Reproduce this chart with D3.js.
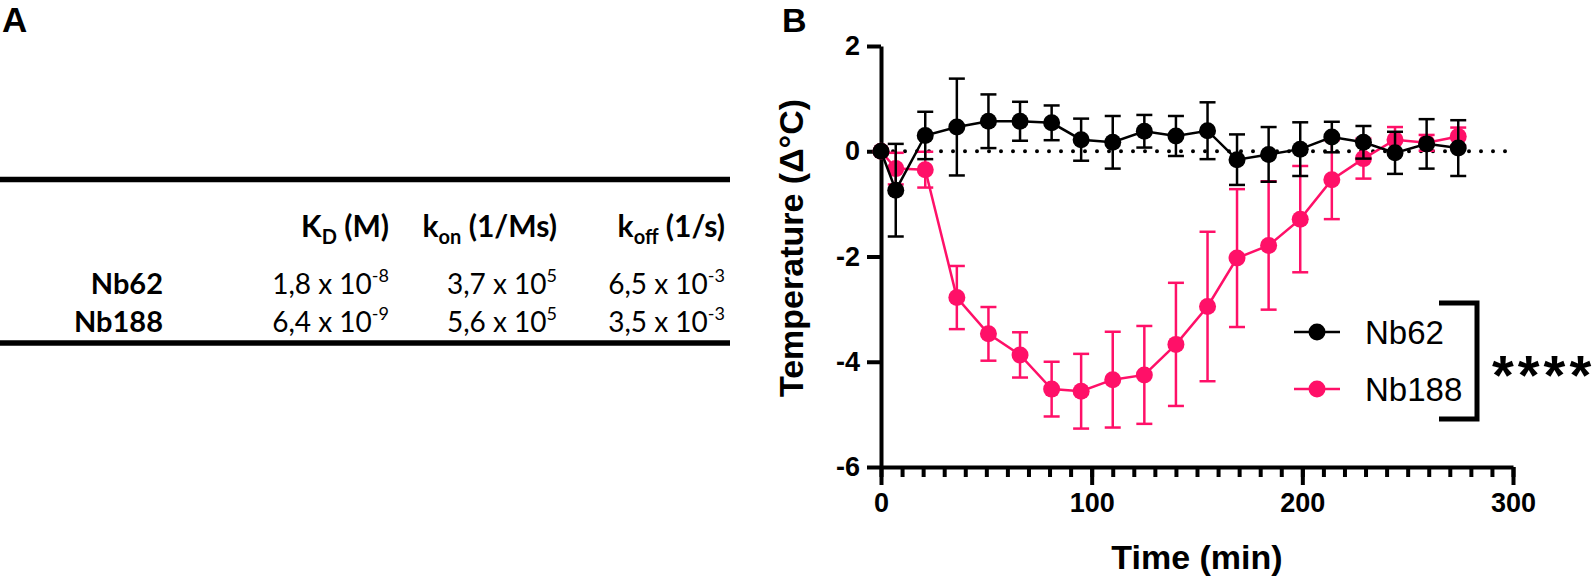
<!DOCTYPE html>
<html>
<head>
<meta charset="utf-8">
<script src="https://cdn.jsdelivr.net/npm/d3@7"></script>
<style>
  body { margin: 0; background: #fff; }
</style>
</head>
<body>
<div id="chart"></div>
<script>
// ---- panel A: kinetics table ----
const headMain = ["K", "k", "k"];
const headSub = ["D", "on", "off"];
const headUnit = [" (M)", " (1/Ms)", " (1/s)"];
const rowNames = ["Nb62", "Nb188"];
const mantissas = [["1,8", "3,7", "6,5"], ["6,4", "5,6", "3,5"]];
const exponents = [["-8", "5", "-3"], ["-9", "5", "-3"]];

// ---- panel B: temperature over time ----
const times = [0, 7, 21, 36, 51, 66, 81, 95, 110, 125, 140, 155, 169, 184, 199, 214, 229, 244, 259, 274];
const nb62Mean = [0, -0.74, 0.30, 0.46, 0.57, 0.57, 0.54, 0.22, 0.17, 0.38, 0.29, 0.39, -0.16, -0.06, 0.04, 0.27, 0.17, -0.03, 0.14, 0.06];
const nb62Sd = [0, 0.88, 0.45, 0.92, 0.51, 0.37, 0.33, 0.40, 0.50, 0.31, 0.38, 0.54, 0.48, 0.52, 0.51, 0.29, 0.31, 0.40, 0.47, 0.53];
const nb188Mean = [0, -0.33, -0.35, -2.78, -3.47, -3.87, -4.52, -4.56, -4.34, -4.25, -3.67, -2.95, -2.03, -1.79, -1.29, -0.54, -0.14, 0.22, 0.16, 0.28];
const nb188Sd = [0, 0.30, 0.34, 0.60, 0.51, 0.43, 0.52, 0.71, 0.91, 0.93, 1.17, 1.42, 1.31, 1.22, 1.01, 0.75, 0.38, 0.24, 0.15, 0.17];
const seriesNames = ["Nb62", "Nb188"];
const xTicks = [0, 100, 200, 300];
const yTicks = [-6, -4, -2, 0, 2];

const black = "#000";
const pink = "#FF1068";
const sans = "'Liberation Sans', Arial, sans-serif";
const tableFont = "Lato, 'Open Sans', sans-serif";

const width = 1594, height = 580;

const svg = d3.select("#chart")
  .append("svg")
  .attr("width", width)
  .attr("height", height);

// panel letters
svg.append("text")
  .attr("x", 2)
  .attr("y", 32)
  .text("A")
  .style("font-family", sans)
  .style("font-weight", "bold")
  .style("font-size", "35px");

svg.append("text")
  .attr("x", 782)
  .attr("y", 32)
  .text("B")
  .style("font-family", sans)
  .style("font-weight", "bold")
  .style("font-size", "34px");

// ---- table ----
[179.5, 343].forEach(yy => {
  svg.append("line")
    .attr("x1", 0)
    .attr("x2", 730)
    .attr("y1", yy)
    .attr("y2", yy)
    .style("stroke", black)
    .style("stroke-width", 5.5);
});

const colRight = [389, 557, 725];
const headY = 237;
const rowY = [294, 332];

headMain.forEach((m, i) => {
  const t = svg.append("text")
    .attr("x", colRight[i])
    .attr("y", headY)
    .attr("text-anchor", "end")
    .style("font-family", tableFont)
    .style("font-weight", "bold")
    .style("font-size", "30px");
  t.append("tspan").text(m);
  t.append("tspan").text(headSub[i]).attr("dy", 7).style("font-size", "20px");
  t.append("tspan").text(headUnit[i]).attr("dy", -7);
});

rowNames.forEach((name, r) => {
  svg.append("text")
    .attr("x", 163)
    .attr("y", rowY[r])
    .attr("text-anchor", "end")
    .text(name)
    .style("font-family", tableFont)
    .style("font-weight", "bold")
    .style("font-size", "29px");

  mantissas[r].forEach((m, i) => {
    const t = svg.append("text")
      .attr("x", colRight[i])
      .attr("y", rowY[r])
      .attr("text-anchor", "end")
      .style("font-family", tableFont)
      .style("font-size", "28px");
    t.append("tspan").text(m + " x 10");
    t.append("tspan").text(exponents[r][i]).attr("dy", -12).style("font-size", "18px");
  });
});

// ---- plot ----
const x = d3.scaleLinear().domain([0, 300]).range([881, 1513]);
const y = d3.scaleLinear().domain([-6, 2]).range([467, 46]);

// minor x ticks every 10 min
const xAxisMinor = svg.append("g")
  .attr("transform", `translate(0,${y(-6)})`)
  .call(d3.axisBottom(x).tickValues(d3.range(0, 301, 10)).tickSize(10).tickSizeOuter(0).tickFormat(""));
xAxisMinor.select(".domain").remove();

const xAxis = svg.append("g")
  .attr("transform", `translate(0,${y(-6)})`)
  .call(d3.axisBottom(x).tickValues(xTicks).tickSize(18).tickSizeOuter(0).tickPadding(8).tickFormat(d => String(d)));

const yAxis = svg.append("g")
  .attr("transform", `translate(${x(0)},0)`)
  .call(d3.axisLeft(y).tickValues(yTicks).tickSize(14).tickSizeOuter(0).tickPadding(7).tickFormat(d => String(d)));

[xAxisMinor, xAxis, yAxis].forEach(g => {
  g.selectAll("path, line").style("stroke", black).style("stroke-width", 4);
  g.selectAll("text")
    .style("font-family", sans)
    .style("font-weight", "bold")
    .style("font-size", "27px")
    .style("fill", black);
});

// dotted zero line
svg.append("line")
  .attr("x1", x(0))
  .attr("x2", x(300))
  .attr("y1", y(0))
  .attr("y2", y(0))
  .style("stroke", black)
  .style("stroke-width", 4)
  .style("stroke-dasharray", "0,12")
  .style("stroke-linecap", "round");

function drawSeries(mean, sd, color) {
  const g = svg.append("g");
  const capHalf = 8;
  times.forEach((t, i) => {
    if (sd[i] <= 0) return;
    const cx = x(t);
    const y1 = y(mean[i] + sd[i]);
    const y2 = y(mean[i] - sd[i]);
    g.append("line").attr("x1", cx).attr("x2", cx).attr("y1", y1).attr("y2", y2)
      .style("stroke", color).style("stroke-width", 2.5);
    [y1, y2].forEach(yy => {
      g.append("line").attr("x1", cx - capHalf).attr("x2", cx + capHalf).attr("y1", yy).attr("y2", yy)
        .style("stroke", color).style("stroke-width", 2.5);
    });
  });

  const line = d3.line()
    .x((d, i) => x(times[i]))
    .y(d => y(d));

  g.append("path")
    .datum(mean)
    .attr("d", line)
    .style("fill", "none")
    .style("stroke", color)
    .style("stroke-width", 2.5);

  g.selectAll("circle")
    .data(mean)
    .enter()
    .append("circle")
    .attr("cx", (d, i) => x(times[i]))
    .attr("cy", d => y(d))
    .attr("r", 8.5)
    .style("fill", color);
}

drawSeries(nb188Mean, nb188Sd, pink);
drawSeries(nb62Mean, nb62Sd, black);

// axis titles
svg.append("text")
  .attr("transform", "translate(803,248) rotate(-90)")
  .attr("text-anchor", "middle")
  .text("Temperature (\u0394\u00B0C)")
  .style("font-family", sans)
  .style("font-weight", "bold")
  .style("font-size", "34px");

svg.append("text")
  .attr("x", (x(0) + x(300)) / 2)
  .attr("y", 569)
  .attr("text-anchor", "middle")
  .text("Time (min)")
  .style("font-family", sans)
  .style("font-weight", "bold")
  .style("font-size", "34px");

// legend
const legendY = [332, 389];
const legendColors = [black, pink];
seriesNames.forEach((name, i) => {
  svg.append("line")
    .attr("x1", 1294).attr("x2", 1340)
    .attr("y1", legendY[i]).attr("y2", legendY[i])
    .style("stroke", legendColors[i]).style("stroke-width", 2.5);
  svg.append("circle")
    .attr("cx", 1317).attr("cy", legendY[i]).attr("r", 8.5)
    .style("fill", legendColors[i]);
  svg.append("text")
    .attr("x", 1365)
    .attr("y", legendY[i] + 12)
    .text(name)
    .style("font-family", sans)
    .style("font-size", "33px");
});

// significance bracket
svg.append("path")
  .attr("d", "M1439,303H1477V419H1439")
  .style("fill", "none")
  .style("stroke", black)
  .style("stroke-width", 5);

svg.append("text")
  .attr("x", 1492)
  .attr("y", 394)
  .text("****")
  .style("font-family", sans)
  .style("font-weight", "bold")
  .style("font-size", "56px")
  .style("letter-spacing", "4px");
</script>
</body>
</html>
